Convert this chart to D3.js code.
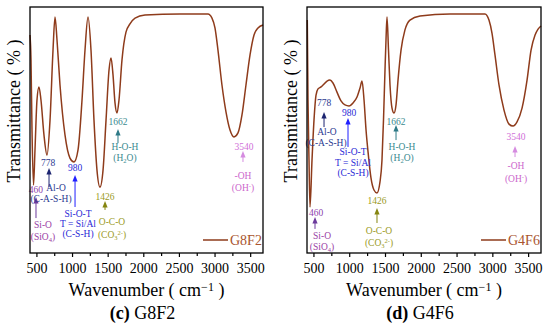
<!DOCTYPE html>
<html>
<head>
<meta charset="utf-8">
<script src="https://cdn.jsdelivr.net/npm/d3@7"></script>
<style>
  body { margin: 0; background: #fff; }
  svg text { font-family: "Liberation Serif", "Times New Roman", Times, "Nimbus Roman", "DejaVu Serif", serif; }
</style>
</head>
<body>
<svg id="chart" width="550" height="327"></svg>
<script>
// x axis ticks (cm-1)
const waveTicks = [500, 1000, 1500, 2000, 2500, 3000, 3500];
const waveMinor = [750, 1250, 1750, 2250, 2750, 3250];

// G8F2 spectrum
const g8f2Wave = [410, 424, 438, 459, 480, 508, 536, 564, 606, 649, 691, 733, 761, 789, 831, 901, 971, 1028, 1084, 1140, 1182, 1224, 1266, 1308, 1350, 1392, 1435, 1477, 1519, 1547, 1575, 1603, 1631, 1659, 1701, 1757, 1813, 1884, 2024, 2515, 2908, 2964, 3006, 3048, 3104, 3161, 3217, 3273, 3329, 3385, 3441, 3498, 3554, 3610, 3680];
const g8f2Trans = [88.6, 78.5, 50, 27.6, 41.9, 62.2, 67.5, 62.2, 48, 39.8, 54, 82.5, 95.9, 86.6, 68.3, 48, 38.6, 37, 41.9, 62.2, 82.5, 95.9, 82.5, 54, 33.7, 26.8, 33.7, 54, 74.4, 79.3, 72.4, 61, 56.9, 62.2, 78.5, 89.8, 93.1, 95.5, 96.7, 97.2, 97.2, 95.5, 91.5, 82.5, 68.3, 57.3, 50, 47.2, 48.8, 56.1, 68.3, 80.5, 88.6, 91.5, 92.7];

// G4F6 spectrum
const g4f6Wave = [414, 424, 438, 452, 480, 508, 536, 564, 606, 648, 690, 731, 773, 829, 885, 941, 997, 1053, 1109, 1151, 1179, 1207, 1235, 1263, 1304, 1346, 1388, 1430, 1458, 1479, 1500, 1514, 1528, 1549, 1570, 1598, 1626, 1654, 1682, 1724, 1779, 1849, 1989, 2408, 2897, 2953, 2995, 3037, 3093, 3163, 3233, 3289, 3345, 3415, 3485, 3541, 3597, 3639, 3680];
const g4f6Trans = [94.7, 62.2, 37.8, 18.7, 37.8, 54.1, 64.2, 66.7, 67.5, 68.7, 69.9, 70.3, 69.1, 65.4, 61.8, 60.2, 59.8, 61, 63.4, 67.1, 69.9, 62.2, 50, 41.1, 30.5, 25.6, 24.4, 28.9, 37.8, 54.1, 74.4, 86.6, 95.9, 82.5, 68.3, 58.9, 56.9, 60.2, 70.3, 82.5, 90.7, 94.7, 96.3, 97.2, 97.2, 94.7, 89.4, 80.5, 68.3, 58.1, 52.4, 51.6, 53.3, 58.9, 70.3, 82.5, 88.6, 91, 92.3];

// band colours (number, arrow, text)
const bandColors = {
  "460": ["#8e44ad", "#6c3a9c", "#9b3fa6"],
  "778": ["#2b3990", "#1c2470", "#2b3990"],
  "980": ["#2a2ad6", "#1f1fff", "#2a2ad6"],
  "1426": ["#9a9a1e", "#858510", "#9a9a1e"],
  "1662": ["#3a8a8f", "#2f7a87", "#3a8a8f"],
  "3540": ["#d070d8", "#d58be0", "#cc66cc"]
};

// annotation placement: number [w, t], arrow [w, tBottom, tTip], text lines [w, t, str]
const g8f2Notes = [
  { num: "460", at: [494, 25.6], arrow: [494, 14.2, 22.8], lines: [[592, 11.4, "Si-O"], [592, 6.5, "(SiO_{4})"]] },
  { num: "778", at: [663, 36.6], arrow: [677, 26.8, 34.6], lines: [[775, 26.4, "Al-O"], [705, 22.0, "(C-A-S-H)"]] },
  { num: "980", at: [1042, 34.6], arrow: [1042, 18.7, 31.7], lines: [[1084, 15.9, "Si-O-T"], [1084, 11.8, "T = Si/Al"], [1084, 7.7, "(C-S-H)"]] },
  { num: "1426", at: [1463, 22.8], arrow: [1463, 17.5, 21.1], lines: [[1561, 12.6, "O-C-O"], [1561, 7.3, "(CO_{3}^{2-})"]] },
  { num: "1662", at: [1645, 53.3], arrow: [1645, 44.7, 50.4], lines: [[1743, 43.1, "H-O-H"], [1743, 38.6, "(H_{2}O)"]] },
  { num: "3540", at: [3413, 43.1], arrow: [3399, 37, 41.5], lines: [[3399, 31.3, "-OH"], [3399, 26.4, "(OH^{-})"]] }
];
const g4f6Notes = [
  { num: "460", at: [536, 16.3], arrow: [522, 9.8, 14.6], lines: [[620, 6.9, "Si-O"], [620, 2.4, "(SiO_{4})"]] },
  { num: "778", at: [648, 61], arrow: [648, 51.2, 57.3], lines: [[689, 49.2, "Al-O"], [676, 44.7, "(C-A-S-H)"]] },
  { num: "980", at: [997, 56.9], arrow: [983, 43.1, 54.9], lines: [[1053, 41.1, "Si-O-T"], [1053, 36.6, "T = Si/Al"], [1053, 32.5, "(C-S-H)"]] },
  { num: "1426", at: [1388, 21.1], arrow: [1388, 12.2, 18.3], lines: [[1416, 8.9, "O-C-O"], [1416, 4.1, "(CO_{3}^{2-})"]] },
  { num: "1662", at: [1654, 53.3], arrow: [1654, 45.9, 52], lines: [[1738, 43.1, "H-O-H"], [1738, 38.6, "(H_{2}O)"]] },
  { num: "3540", at: [3331, 47.2], arrow: [3317, 39, 43.5], lines: [[3331, 35.4, "-OH"], [3331, 30.1, "(OH^{-})"]] }
];

const serif = '"Liberation Serif", "Times New Roman", Times, "Nimbus Roman", "DejaVu Serif", serif';
const svg = d3.select("#chart").attr("font-family", serif);

// write "(CO_{3}^{2-})" style strings with sub/superscripts
function richText(sel, str) {
  const parts = str.split(/([_^]\{[^}]*\})/).filter(s => s.length);
  parts.forEach(p => {
    if (p[0] === "_" || p[0] === "^") {
      sel.append("tspan")
        .attr("font-size", "6.5px")
        .attr("baseline-shift", p[0] === "_" ? "-25%" : "45%")
        .text(p.slice(2, -1));
    } else {
      sel.append("tspan").text(p);
    }
  });
}

function drawPanel(left, right, wave, trans, notes, name, tag) {
  const top = 7, bottom = 253;
  const x = d3.scaleLinear().domain([410, 3680]).range([left, right]);
  const y = d3.scaleLinear().domain([0, 100]).range([bottom, top]);
  const g = svg.append("g");

  // minor + major ticks
  const minor = g.append("g")
    .attr("transform", `translate(0,${bottom})`)
    .call(d3.axisBottom(x).tickValues(waveMinor).tickSize(3).tickSizeOuter(0).tickFormat(""));
  minor.select(".domain").remove();
  minor.selectAll("line").attr("stroke-width", 1.2);

  const axis = g.append("g")
    .attr("transform", `translate(0,${bottom})`)
    .call(d3.axisBottom(x).tickValues(waveTicks).tickSize(4).tickSizeOuter(0)
      .tickPadding(6).tickFormat(d3.format("d")));
  axis.attr("font-family", serif).attr("font-size", 14);
  axis.select(".domain").remove();
  axis.selectAll("line").attr("stroke-width", 1.2);
  axis.selectAll("text").attr("fill", "#000");

  // curve
  const line = d3.line()
    .x(d => x(d[0]))
    .y(d => y(d[1]))
    .curve(d3.curveMonotoneX);
  g.append("path")
    .datum(d3.zip(wave, trans))
    .attr("d", line)
    .attr("fill", "none")
    .attr("stroke", "#8e3b1b")
    .attr("stroke-width", 1.5);

  // band annotations
  notes.forEach(n => {
    const c = bandColors[n.num];
    g.append("text")
      .attr("x", x(n.at[0])).attr("y", y(n.at[1]))
      .attr("dy", "0.35em")
      .attr("text-anchor", "middle")
      .attr("font-size", "9.5px")
      .attr("fill", c[0])
      .text(n.num);
    const ax = x(n.arrow[0]), y0 = y(n.arrow[1]), y1 = y(n.arrow[2]);
    g.append("line")
      .attr("x1", ax).attr("x2", ax)
      .attr("y1", y0).attr("y2", y1 + 5)
      .attr("stroke", c[1]).attr("stroke-width", 1);
    g.append("path")
      .attr("d", `M${ax},${y1}L${ax - 2.6},${y1 + 6.5}L${ax + 2.6},${y1 + 6.5}Z`)
      .attr("fill", c[1]);
    n.lines.forEach(l => {
      const t = g.append("text")
        .attr("x", x(l[0])).attr("y", y(l[1]))
        .attr("dy", "0.35em")
        .attr("text-anchor", "middle")
        .attr("font-size", "9.5px")
        .attr("fill", c[2]);
      richText(t, l[2]);
    });
  });

  // legend
  g.append("line")
    .attr("x1", right - 60).attr("x2", right - 35)
    .attr("y1", 240).attr("y2", 240)
    .attr("stroke", "#8e3b1b").attr("stroke-width", 1.5);
  g.append("text")
    .attr("x", right - 33).attr("y", 245)
    .attr("font-size", "14px")
    .attr("fill", "#a9542e")
    .text(name);

  // frame
  g.append("rect")
    .attr("x", left).attr("y", top)
    .attr("width", right - left).attr("height", bottom - top)
    .attr("fill", "none").attr("stroke", "#000").attr("stroke-width", 1.3);

  // titles
  const cx = (left + right) / 2;
  const xt = g.append("text")
    .attr("x", cx).attr("y", 296)
    .attr("text-anchor", "middle")
    .attr("font-size", "18px");
  xt.append("tspan").text("Wavenumber ( cm");
  xt.append("tspan").attr("font-size", "12px").attr("baseline-shift", "45%").text("\u22121");
  xt.append("tspan").text(" )");

  g.append("text")
    .attr("transform", `translate(${left - 10},111) rotate(-90)`)
    .attr("text-anchor", "middle")
    .attr("font-size", "18px")
    .text("Transmittance ( % )");

  const cap = g.append("text")
    .attr("x", cx - 4).attr("y", 319)
    .attr("text-anchor", "middle")
    .attr("font-size", "18px");
  cap.append("tspan").attr("font-weight", "bold").text(`(${tag})`);
  cap.append("tspan").text(" " + name);
}

drawPanel(30, 263, g8f2Wave, g8f2Trans, g8f2Notes, "G8F2", "c");
drawPanel(307, 541, g4f6Wave, g4f6Trans, g4f6Notes, "G4F6", "d");
</script>
</body>
</html>
